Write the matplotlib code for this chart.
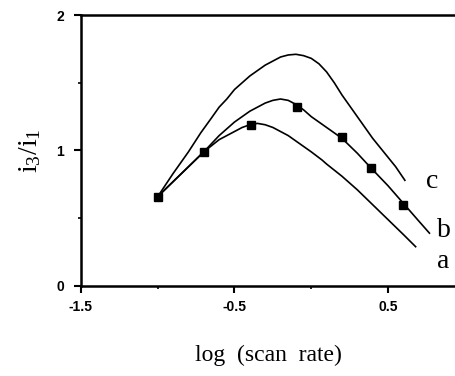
import matplotlib
matplotlib.use('Agg')
import matplotlib.pyplot as plt
from matplotlib.ticker import MultipleLocator

# values
curve_a_x = [-1.0, -0.9, -0.8, -0.7, -0.6, -0.5, -0.45, -0.4, -0.35, -0.3, -0.25, -0.2,
             -0.15, -0.1, -0.05, 0.0, 0.07, 0.1, 0.2, 0.3, 0.4, 0.5, 0.6, 0.68]
curve_a_y = [0.66, 0.77, 0.88, 0.99, 1.08, 1.14, 1.17, 1.19, 1.20, 1.19, 1.17, 1.14,
             1.11, 1.07, 1.03, 0.99, 0.93, 0.90, 0.81, 0.71, 0.60, 0.49, 0.38, 0.29]

curve_b_x = [-1.0, -0.9, -0.8, -0.7, -0.6, -0.5, -0.45, -0.4, -0.35, -0.3, -0.25, -0.2,
             -0.15, -0.1, -0.05, 0.0, 0.05, 0.1, 0.2, 0.3, 0.39, 0.5, 0.6, 0.7, 0.77]
curve_b_y = [0.66, 0.77, 0.88, 0.99, 1.11, 1.21, 1.25, 1.29, 1.32, 1.35, 1.37, 1.38,
             1.37, 1.34, 1.30, 1.25, 1.21, 1.17, 1.09, 0.98, 0.87, 0.74, 0.61, 0.48, 0.39]

curve_c_x = [-1.0, -0.9, -0.8, -0.72, -0.65, -0.6, -0.55, -0.5, -0.45, -0.4, -0.35, -0.3,
             -0.25, -0.2, -0.15, -0.1, -0.05, 0.0, 0.05, 0.1, 0.15, 0.2, 0.25, 0.3,
             0.35, 0.4, 0.45, 0.5, 0.55, 0.61]
curve_c_y = [0.66, 0.83, 0.99, 1.13, 1.24, 1.32, 1.38, 1.45, 1.50, 1.55, 1.59, 1.63,
             1.66, 1.69, 1.705, 1.71, 1.70, 1.68, 1.64, 1.58, 1.50, 1.41, 1.33, 1.25,
             1.17, 1.09, 1.02, 0.95, 0.88, 0.78]

points_x = [-1.0, -0.70, -0.39, -0.09, 0.20, 0.39, 0.60]
points_y = [0.66, 0.99, 1.19, 1.32, 1.10, 0.87, 0.60]

curve_labels = ['a', 'b', 'c']
label_x = [0.82, 0.82, 0.75]
label_y = [0.13, 0.36, 0.72]

plt.rcParams['mathtext.fontset'] = 'custom'
plt.rcParams['mathtext.rm'] = 'Liberation Serif'
plt.rcParams['mathtext.it'] = 'Liberation Serif'

fig = plt.figure(figsize=(4.56, 3.76), dpi=100)
ax = fig.add_axes([0.1776, 0.2394, 0.8224, 0.7207])

# curves
for cx, cy in [(curve_a_x, curve_a_y), (curve_b_x, curve_b_y), (curve_c_x, curve_c_y)]:
    ax.plot(cx, cy, color='black', linewidth=1.2, solid_joinstyle='round')

# measured points
ax.plot(points_x, points_y, linestyle='none', marker='s', markersize=6,
        color='black')

for lab, lx, ly in zip(curve_labels, label_x, label_y):
    ax.text(lx, ly, lab, fontsize=20, family='Liberation Serif',
            ha='left', va='baseline')

ax.set_xlim(-1.5, 0.943)
ax.set_ylim(0, 2)

# axes look
ax.spines['right'].set_visible(False)
for s in ['left', 'bottom', 'top']:
    ax.spines[s].set_linewidth(1.8)

ax.xaxis.set_minor_locator(MultipleLocator(0.5))
ax.yaxis.set_minor_locator(MultipleLocator(0.5))
ax.set_xticks([-1.5, -0.5, 0.5])
ax.set_xticklabels(['-1.5', '-0.5', '0.5'])
ax.set_yticks([0, 1, 2])
ax.set_yticklabels(['0', '1', '2'])
ax.tick_params(which='major', direction='out', length=5, width=1.5,
               labelsize=10, pad=5, top=False, right=False)
ax.tick_params(which='minor', direction='out', length=2.5, width=1.2,
               top=False, right=False)
ax.tick_params(axis='y', pad=7)
for t in ax.get_xticklabels() + ax.get_yticklabels():
    t.set_fontweight('bold')
    t.set_family('Liberation Sans')

ax.set_xlabel('log  (scan  rate)', fontsize=17, family='Liberation Serif',
              labelpad=22)
ax.set_ylabel(r'$\mathrm{i_3/i_1}$', fontsize=20, labelpad=10)

plt.savefig('out.png', dpi=100)
